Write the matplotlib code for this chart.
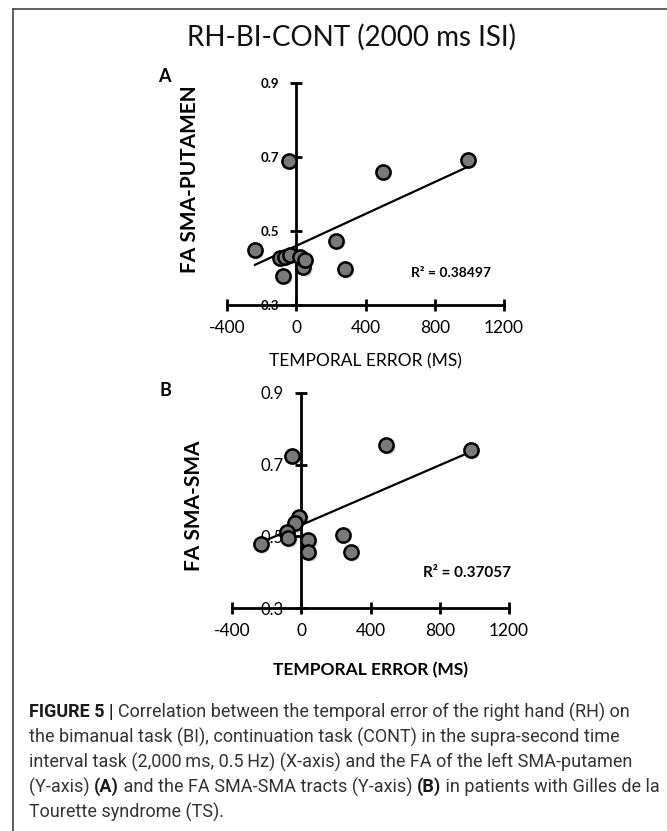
import numpy as np
import matplotlib
matplotlib.use("Agg")
import matplotlib.pyplot as plt
import matplotlib.transforms as mtransforms
from matplotlib.lines import Line2D

# Panel A: FA SMA-putamen vs temporal error (ms)
err_a = [-45, 990, 500, 231, -240, 279, -77, 38, -97, -68, -39, 19, 48]
fa_a = [0.690, 0.692, 0.660, 0.473, 0.448, 0.396, 0.379, 0.402,
        0.426, 0.430, 0.435, 0.430, 0.421]
fit_a = (0.000215, 0.460)   # slope, intercept of the trend line
r2_a = "R² = 0.38497"

# Panel B: FA SMA-SMA vs temporal error (ms)
err_b = [-56, 491, 979, -13, -38, -86, -76, -236, 39, 39, 238, 286]
fa_b = [0.725, 0.754, 0.740, 0.555, 0.536, 0.513, 0.495, 0.478,
        0.490, 0.456, 0.504, 0.456]
fit_b = (0.000208, 0.532)
r2_b = "R² = 0.37057"

xticks = [-400, 0, 400, 800, 1200]
xtick_labels = ["-400", "0", "400", "800", "1200"]
yticks = [0.3, 0.5, 0.7, 0.9]
ytick_labels = ["0.3", "0.5", "0.7", "0.9"]

title = "RH-BI-CONT (2000 ms ISI)"
xlabel = "TEMPORAL ERROR (MS)"

caption_lines = [
    [("FIGURE 5 | ", True), ("Correlation between the temporal error of the right hand (RH) on", False)],
    [("the bimanual task (BI), continuation task (CONT) in the supra-second time", False)],
    [("interval task (2,000\u2009ms, 0.5\u2009Hz) (X-axis) and the FA of the left SMA-putamen", False)],
    [("(Y-axis) ", False), ("(A)", True), (" and the FA SMA-SMA tracts (Y-axis) ", False),
     ("(B)", True), (" in patients with Gilles de la", False)],
    [("Tourette syndrome (TS).", False)],
]

W, H = 667, 831
chart_font = ["Lato", "DejaVu Sans"]
cap_font = ["Roboto", "DejaVu Sans"]

fig = plt.figure(figsize=(W / 100, H / 100), dpi=100)


def px_axes(left, top, right, bottom):
    return fig.add_axes([left / W, 1 - bottom / H, (right - left) / W, (bottom - top) / H])


def draw_panel(ax, err, fa, fit, r2, ylabel, ytick_size, ytick_weight,
               xlabel_weight, r2_size, r2_pos, ylab_pos, xlab_y):
    ax.set_xlim(-400, 1200)
    ax.set_ylim(0.3, 0.9)
    ax.patch.set_visible(False)
    for s in ["top", "right"]:
        ax.spines[s].set_visible(False)
    ax.spines["left"].set_position(("data", 0))
    ax.spines["bottom"].set_position(("data", 0.3))
    for s in ["left", "bottom"]:
        ax.spines[s].set_linewidth(2.0)
        ax.spines[s].set_zorder(3)
    ax.set_xticks(xticks)
    ax.set_xticklabels(xtick_labels, fontsize=12.5, family=chart_font)
    ax.set_yticks(yticks)
    ax.set_yticklabels(ytick_labels, fontsize=ytick_size, fontweight=ytick_weight,
                       family=chart_font)
    ax.tick_params(direction="inout", length=9, width=2.0)
    ax.tick_params(axis="x", pad=6)
    ax.tick_params(axis="y", pad=8)

    # trend line
    xs = np.array([min(err), max(err)])
    ax.plot(xs, fit[0] * xs + fit[1], color="black", lw=1.6, zorder=4, clip_on=False)

    # soft drop shadow, then points
    shadow = mtransforms.offset_copy(ax.transData, fig=fig, x=1.5, y=-1.5, units="dots")
    ax.scatter(err, fa, s=105, color="#000000", alpha=0.18, linewidths=0,
               transform=shadow, zorder=4, clip_on=False)
    ax.scatter(err, fa, s=105, facecolor="#7a7a7a", edgecolor="black",
               linewidths=1.8, zorder=5, clip_on=False)

    ax.text(r2_pos[0], r2_pos[1], r2, fontsize=r2_size, fontweight="bold",
            family=chart_font, ha="center", va="center")

    ax.set_ylabel(ylabel, fontsize=15, fontweight="bold", family=chart_font)
    ax.yaxis.set_label_coords(ylab_pos[0], ylab_pos[1])
    ax.set_xlabel(xlabel, fontsize=12.5, fontweight=xlabel_weight, family=chart_font)
    ax.xaxis.set_label_coords(0.5, xlab_y)


ax_a = px_axes(227.3, 82.7, 504.0, 305.0)
draw_panel(ax_a, err_a, fa_a, fit_a, r2_a, "FA SMA-PUTAMEN", 9.5, "bold", "normal",
           10, (893, 0.386), (-0.099, 0.567), -0.216)

ax_b = px_axes(232.3, 392.7, 509.0, 608.3)
draw_panel(ax_b, err_b, fa_b, fit_b, r2_b, "FA SMA-SMA", 12, "normal", "bold",
           11, (957, 0.398), (-0.102, 0.474), -0.249)

fig.text(351 / W, 1 - 37 / H, title, fontsize=20, family=chart_font,
         ha="center", va="center", color="#111111")
fig.text(164 / W, 1 - 77 / H, "A", fontsize=13, fontweight="bold", family=chart_font,
         ha="center", va="center")
fig.text(165 / W, 1 - 391 / H, "B", fontsize=13, fontweight="bold", family=chart_font,
         ha="center", va="center")

# frame lines of the figure box
fig.add_artist(Line2D([13.5 / W, 1], [1 - 8.5 / H, 1 - 8.5 / H], transform=fig.transFigure,
                      color="#444444", lw=1.2))
fig.add_artist(Line2D([13.5 / W, 13.5 / W], [0, 1 - 8.5 / H], transform=fig.transFigure,
                      color="#444444", lw=1.2))

# caption with bold pieces
renderer = fig.canvas.get_renderer()
cap_size = 13


def seg_width(s, bold):
    kw = dict(fontsize=cap_size, family=cap_font, fontweight="bold" if bold else "normal")
    t1 = fig.text(0, 0, s + "|", **kw)
    t2 = fig.text(0, 0, "|", **kw)
    w = t1.get_window_extent(renderer).width - t2.get_window_extent(renderer).width
    t1.remove()
    t2.remove()
    return w


y0 = 712
for i, line in enumerate(caption_lines):
    x = 29.0
    y = y0 + 25 * i
    for s, bold in line:
        fig.text(x / W, 1 - y / H, s, fontsize=cap_size, family=cap_font,
                 fontweight="bold" if bold else "normal",
                 color="#1a1a1a" if bold else "#333333", ha="left", va="center")
        x += seg_width(s, bold)

fig.savefig("out.png", dpi=100)
